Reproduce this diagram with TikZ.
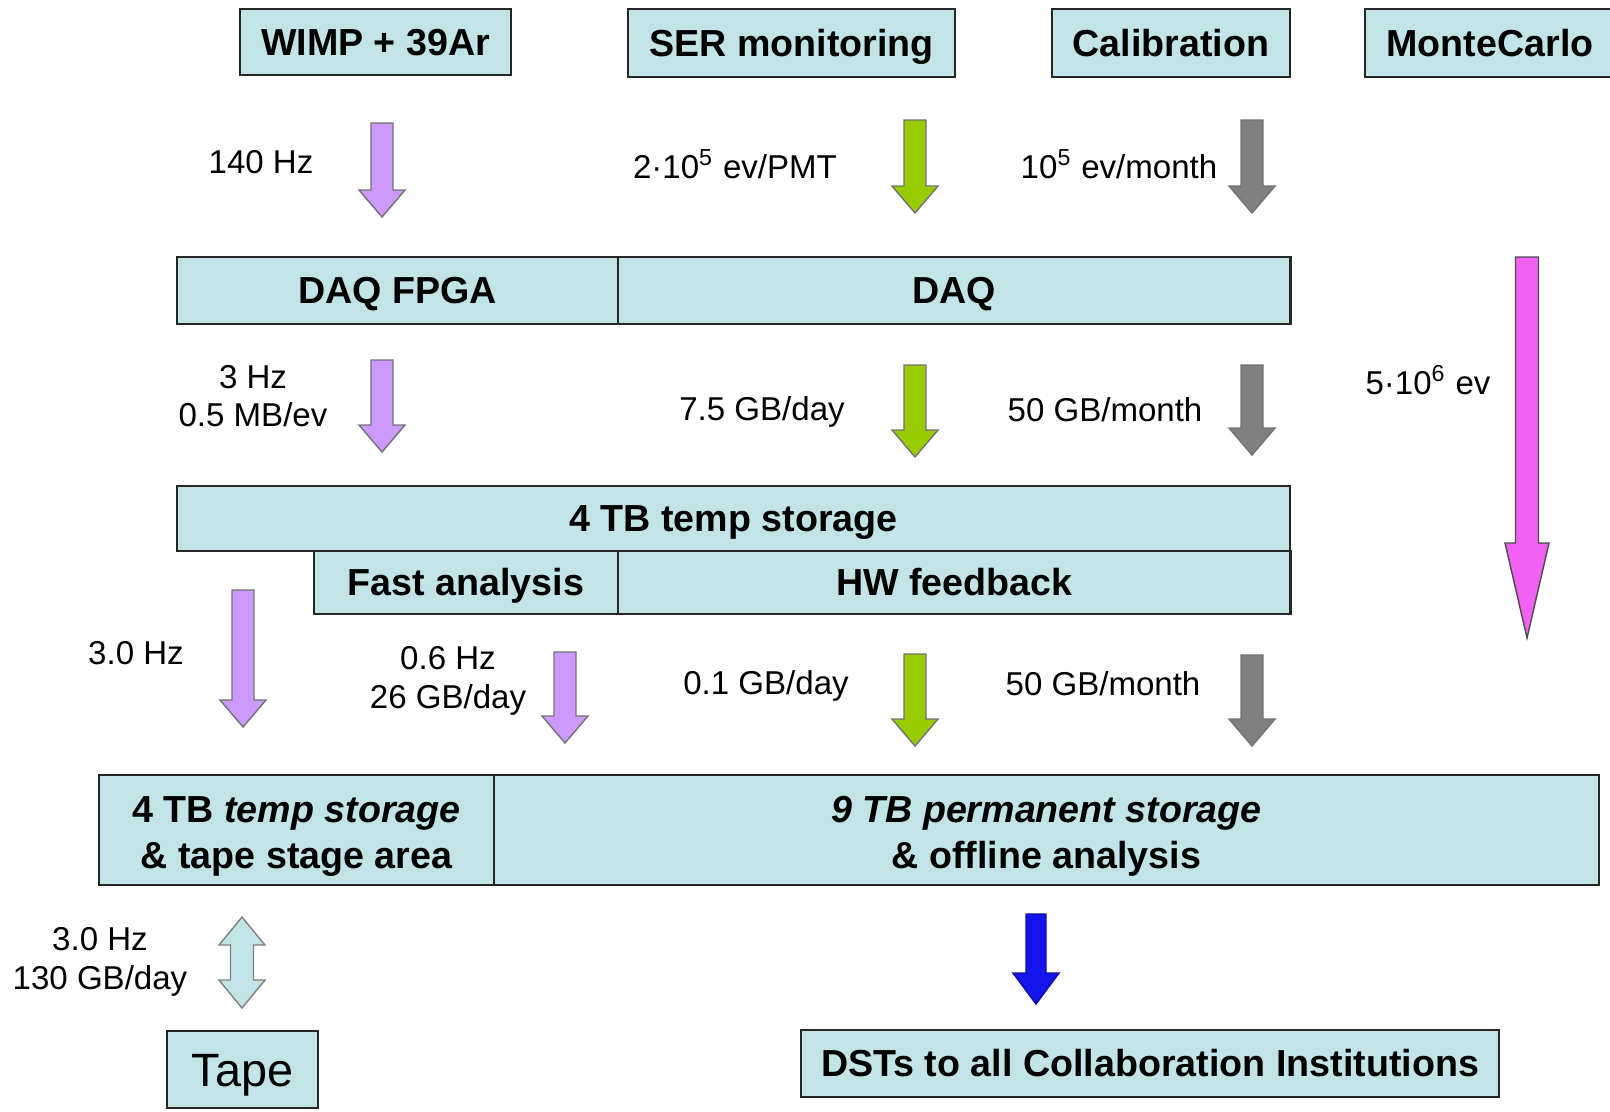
\documentclass[tikz,border=0pt]{standalone}
\usepackage{fontspec}
\setmainfont{Liberation Sans}
\usepackage{tikz}
\usetikzlibrary{positioning, calc}

\definecolor{boxblue}{RGB}{194,228,231}
\definecolor{lilac}{RGB}{204,153,255}
\definecolor{lime}{RGB}{153,204,0}
\definecolor{ashgray}{RGB}{128,128,128}
\definecolor{pinkish}{RGB}{242,98,242}
\definecolor{deepblue}{RGB}{20,20,235}

% half shaft, half head, head length (in px units)
\newcommand{\shw}{11}
\newcommand{\hdw}{23}
\newcommand{\hdl}{27}

\newcommand{\fatdown}[3]{%
  \draw[#3] ($(#1)+(-\shw,0)$) -- ($(#2)+(-\shw,-\hdl)$) -- ($(#2)+(-\hdw,-\hdl)$)
    -- (#2) -- ($(#2)+(\hdw,-\hdl)$) -- ($(#2)+(\shw,-\hdl)$) -- ($(#1)+(\shw,0)$) -- cycle;}
\newcommand{\fatboth}[3]{%
  \draw[#3] (#1) -- ($(#1)+(\hdw,\hdl)$) -- ($(#1)+(\shw,\hdl)$) -- ($(#2)+(\shw,-\hdl)$)
    -- ($(#2)+(\hdw,-\hdl)$) -- (#2) -- ($(#2)+(-\hdw,-\hdl)$) -- ($(#2)+(-\shw,-\hdl)$)
    -- ($(#1)+(-\shw,\hdl)$) -- ($(#1)+(-\hdw,\hdl)$) -- cycle;}
\newcommand{\topstrut}{\rule{0pt}{10.9pt}}

\tikzset{
  box/.style={draw=black!85, line width=0.6pt, fill=boxblue, inner sep=0pt, outer sep=0pt,
    align=center, font=\bfseries\fontsize{10.7}{13.1}\selectfont},
  oneline/.style={text height=8.7pt, text depth=1.3pt},
  lbl/.style={inner sep=0pt, align=center, font=\fontsize{9.4}{10.9}\selectfont},
  fat/.style={draw=black!55, line width=0.4pt}
}

\begin{document}
\begin{tikzpicture}[x=0.01cm, y=-0.01cm]
    \useasboundingbox[fill=white] (0,0) rectangle (1610,1111);

    % sources
    \node[box, oneline, minimum width=2.71cm, minimum height=0.66cm] (wimp) at (375.5,42) {WIMP + 39Ar};
    \node[box, oneline, minimum width=3.27cm, minimum height=0.68cm] (ser) at (791.5,43) {SER monitoring};
    \node[box, oneline, minimum width=2.38cm, minimum height=0.68cm] (calib) at (1171,43) {Calibration};
    \node[box, oneline, minimum width=2.50cm, minimum height=0.68cm] (mc) at (1490,43) {MonteCarlo};

    % DAQ
    \node[box, oneline, minimum width=4.41cm, minimum height=0.67cm] (fpga) at (397.5,290.5) {DAQ FPGA};
    \node[box, oneline, minimum width=6.72cm, minimum height=0.67cm, right=0pt of fpga] (daq) {DAQ};

    % temp storage
    \node[box, oneline, minimum width=11.13cm, minimum height=0.65cm] (tmp) at (733.5,518.5) {4 TB temp storage};
    \node[box, oneline, minimum width=3.04cm, minimum height=0.63cm] (fast) at (466,582.5) {Fast analysis};
    \node[box, oneline, minimum width=6.72cm, minimum height=0.63cm, right=0pt of fast] (hw) {HW feedback};

    % storage
    \node[box, minimum width=3.95cm, minimum height=1.10cm] (stage) at (296.5,830)
        {\topstrut 4 TB \itshape temp storage\\ \upshape\& tape stage area};
    \node[box, minimum width=11.04cm, minimum height=1.10cm, right=0pt of stage] (perm)
        {\topstrut\itshape 9 TB permanent storage\\ \upshape\& offline analysis};

    \node[box, minimum width=1.51cm, minimum height=0.77cm, text height=11.4pt, text depth=1.6pt,
        font=\fontsize{13.3}{15}\selectfont] (tape) at (242.5,1069.5) {Tape};
    \node[box, oneline, minimum width=6.98cm, minimum height=0.67cm] (dst) at (1150,1063.5)
        {DSTs to all Collaboration Institutions};

    % arrow ends
    \coordinate (p1a) at (382,123);  \coordinate (p1b) at (382,217);
    \coordinate (g1a) at (915,120);  \coordinate (g1b) at (915,213);
    \coordinate (k1a) at (1252,120); \coordinate (k1b) at (1252,213);
    \coordinate (p2a) at (382,360);  \coordinate (p2b) at (382,452);
    \coordinate (g2a) at (915,365);  \coordinate (g2b) at (915,457);
    \coordinate (k2a) at (1252,365); \coordinate (k2b) at (1252,455);
    \coordinate (p3a) at (243,590);  \coordinate (p3b) at (243,727);
    \coordinate (q3a) at (565,652);  \coordinate (q3b) at (565,743);
    \coordinate (g3a) at (915,654);  \coordinate (g3b) at (915,746);
    \coordinate (k3a) at (1252,655); \coordinate (k3b) at (1252,746);
    \coordinate (mca) at (1527,257); \coordinate (mcb) at (1527,638);
    \coordinate (dsa) at (1036,914); \coordinate (dsb) at (1036,1004);
    \coordinate (tpa) at (242,917);  \coordinate (tpb) at (242,1008);

    \fatdown{p1a}{p1b}{fat, fill=lilac}
    \fatdown{g1a}{g1b}{fat, fill=lime}
    \fatdown{k1a}{k1b}{fat, fill=ashgray}
    \fatdown{p2a}{p2b}{fat, fill=lilac}
    \fatdown{g2a}{g2b}{fat, fill=lime}
    \fatdown{k2a}{k2b}{fat, fill=ashgray}
    \fatdown{p3a}{p3b}{fat, fill=lilac}
    \fatdown{q3a}{q3b}{fat, fill=lilac}
    \fatdown{g3a}{g3b}{fat, fill=lime}
    \fatdown{k3a}{k3b}{fat, fill=ashgray}
    {\renewcommand{\shw}{11.5}\renewcommand{\hdw}{22}\renewcommand{\hdl}{95}
     \fatdown{mca}{mcb}{fat, draw=black!70, fill=pinkish}}
    {\renewcommand{\shw}{10}\renewcommand{\hdl}{31}
     \fatdown{dsa}{dsb}{fat, draw=deepblue!70!black, fill=deepblue}}
    {\renewcommand{\shw}{11.5}\renewcommand{\hdl}{28}
     \fatboth{tpa}{tpb}{fat, draw=black!50, fill=boxblue}}

    % rates
    \node[lbl] (r1) at (261,162) {140 Hz};
    \node[lbl] (r2) at (735,164) {2\textperiodcentered10\textsuperscript{5} ev/PMT};
    \node[lbl] (r3) at (1119,164) {10\textsuperscript{5} ev/month};
    \node[lbl] (r4) at (253,396) {3 Hz\\0.5 MB/ev};
    \node[lbl] (r5) at (762,412) {7.5 GB/day};
    \node[lbl] (r6) at (1105,410) {50 GB/month};
    \node[lbl] (r7) at (1428,380) {5\textperiodcentered10\textsuperscript{6} ev};
    \node[lbl] (r8) at (136,653) {3.0 Hz};
    \node[lbl] (r9) at (448,681) {0.6 Hz\\26 GB/day};
    \node[lbl] (r10) at (766,686) {0.1 GB/day};
    \node[lbl] (r11) at (1103,684) {50 GB/month};
    \node[lbl] (r12) at (100,962) {3.0 Hz\\130 GB/day};
\end{tikzpicture}
\end{document}
